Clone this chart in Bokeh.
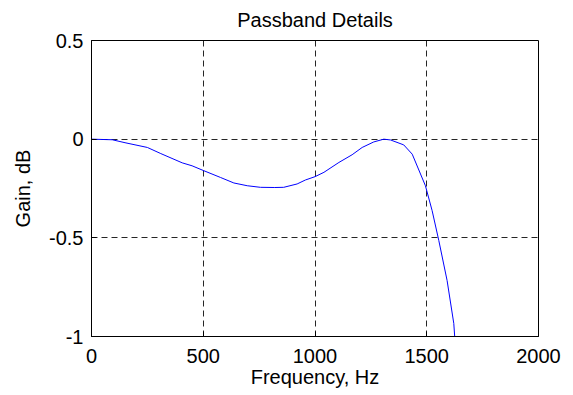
from bokeh.plotting import figure
from bokeh.models import Range1d, FixedTicker
from bokeh.embed import file_html
from bokeh.resources import INLINE

freq = [0, 93, 150, 250, 310, 406, 450, 503, 577, 637, 697, 756, 820, 860,
        920, 957, 1000, 1040, 1107, 1166, 1211, 1263, 1308, 1338, 1397, 1435,
        1494, 1524, 1554, 1591, 1621, 1625]
gain = [0, -0.003, -0.018, -0.042, -0.073, -0.12, -0.135, -0.16, -0.194, -0.222,
        -0.236, -0.244, -0.245, -0.244, -0.227, -0.207, -0.19, -0.168, -0.118,
        -0.079, -0.042, -0.014, 0, -0.004, -0.029, -0.076, -0.236, -0.362,
        -0.514, -0.716, -0.934, -1.0]

x_ticks = [0, 500, 1000, 1500, 2000]
y_ticks = [-1, -0.5, 0, 0.5]
y_tick_labels = {-1: "-1", -0.5: "-0.5", 0: "0", 0.5: "0.5"}

FONT = "Liberation Sans"

p = figure(width=573, height=395, output_backend="svg", toolbar_location=None,
           x_range=Range1d(0, 2000), y_range=Range1d(-1, 0.5),
           min_border_left=91, min_border_right=35, min_border_top=39,
           min_border_bottom=59, title="Passband Details")
p.background_fill_color = "white"
p.border_fill_color = "white"
p.outline_line_color = "black"
p.outline_line_width = 1

p.title.align = "center"
p.title.text_font = FONT
p.title.text_font_size = "20px"
p.title.text_font_style = "normal"
p.title.text_color = "black"
p.title.standoff = 16
p.title.vertical_align = "top"

for ax in (p.xaxis[0], p.yaxis[0]):
    ax.major_label_text_font = FONT
    ax.major_label_text_font_size = "20px"
    ax.major_label_text_color = "black"
    ax.axis_label_text_font = FONT
    ax.axis_label_text_font_size = "20px"
    ax.axis_label_text_font_style = "normal"
    ax.axis_label_text_color = "black"
    ax.axis_line_color = "black"
    ax.major_tick_line_color = "black"
    ax.major_tick_in = 5
    ax.major_tick_out = 0
    ax.minor_tick_line_color = None

p.xaxis.ticker = FixedTicker(ticks=x_ticks)
p.yaxis.ticker = FixedTicker(ticks=y_ticks)
p.yaxis.major_label_overrides = y_tick_labels
p.xaxis.axis_label = "Frequency, Hz"
p.yaxis.axis_label = "Gain, dB"
p.xaxis.major_label_standoff = 12
p.yaxis.major_label_standoff = 8
p.xaxis.axis_label_standoff = 0
p.yaxis.axis_label_standoff = 12

p.grid.grid_line_color = "black"
p.grid.grid_line_dash = "6 4"
p.grid.grid_line_width = 1
p.grid.grid_line_alpha = 0.85

p.line(freq, gain, line_color="#0000ff", line_width=1)

open("out.html", "w").write(file_html(p, INLINE))
